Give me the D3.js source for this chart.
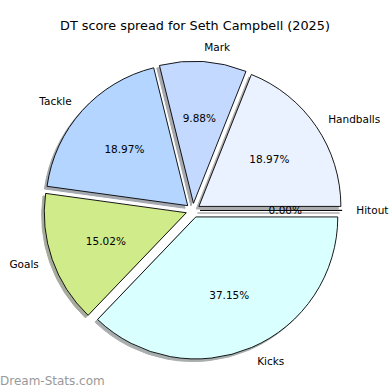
<!DOCTYPE html>
<html><head><meta charset="utf-8">
<script src="https://cdn.jsdelivr.net/npm/d3@7"></script>
<style>html,body{margin:0;padding:0;background:#fff;}svg{display:block;font-family:"DejaVu Sans",sans-serif;}</style>
</head><body>
<svg id="c" width="390" height="390"></svg>
<script>
const categories = ["Handballs","Mark","Tackle","Goals","Kicks","Hitout"];
const values = [18.97, 9.88, 18.97, 15.02, 37.15, 0.00];
const colors = ["#ebf2ff","#c3d9ff","#b3d5ff","#d0eb8a","#d9ffff","#ffffff"];
const titleText = "DT score spread for Seth Campbell (2025)";
const watermark = "Dream-Stats.com";

const svg = d3.select("#c");
const cx = 193, cy = 210.4, R = 142, explode = 0.05, shOff = 2.6;

const pie = d3.pie().sort(null).value(d => d.v)
  .startAngle(Math.PI/2).endAngle(Math.PI/2 - 2*Math.PI);
const data = categories.map((c,i)=>({c, v: values[i], col: colors[i]}));
const arcs = pie(data);
const arc = d3.arc().innerRadius(0).outerRadius(R);
const total = d3.sum(values);

function mid(a){ return (a.startAngle + a.endAngle)/2; }
function off(a, k){ const m = mid(a); return [k*Math.sin(m), -k*Math.cos(m)]; }

const g = svg.append("g").attr("transform", `translate(${cx},${cy})`);

// shadows
g.selectAll("path.sh").data(arcs).join("path").attr("class","sh")
  .attr("d", arc)
  .attr("transform", d => { const o = off(d, explode*R); return `translate(${o[0]-shOff},${o[1]+shOff})`; })
  .attr("fill", d => { const c = d3.rgb(d.data.col); return d3.rgb(c.r*0.3, c.g*0.3, c.b*0.3); })
  .attr("stroke", d => { const c = d3.rgb(d.data.col); return d3.rgb(c.r*0.3, c.g*0.3, c.b*0.3); })
  .attr("stroke-width", 1)
  .attr("opacity", 0.45);

// wedges
g.selectAll("path.w").data(arcs).join("path").attr("class","w")
  .attr("d", arc)
  .attr("transform", d => { const o = off(d, explode*R); return `translate(${o[0]},${o[1]})`; })
  .attr("fill", d => d.data.col)
  .attr("stroke", "#000")
  .attr("stroke-width", 0.9)
  .attr("stroke-linejoin", "miter");

// labels
g.selectAll("text.lab").data(arcs).join("text").attr("class","lab")
  .attr("x", d => off(d, explode*R)[0] + off(d, 1.1*R)[0])
  .attr("y", d => off(d, explode*R)[1] + off(d, 1.1*R)[1])
  .attr("text-anchor", d => off(d,1)[0] >= -1e-9 ? "start" : "end")
  .attr("dominant-baseline", "central")
  .attr("font-size", 10.5).attr("fill", "#000")
  .text(d => d.data.c);

// percents
g.selectAll("text.pct").data(arcs).join("text").attr("class","pct")
  .attr("x", d => off(d, explode*R)[0] + off(d, 0.6*R)[0])
  .attr("y", d => off(d, explode*R)[1] + off(d, 0.6*R)[1])
  .attr("text-anchor", "middle")
  .attr("dominant-baseline", "central")
  .attr("font-size", 10.5).attr("fill", "#000")
  .text(d => (100*d.data.v/total).toFixed(2) + "%");

svg.append("text").attr("x", 195).attr("y", 30).attr("text-anchor","middle")
  .attr("font-size", 12.8).attr("fill","#000").text(titleText);

svg.append("text").attr("x", 0).attr("y", 385)
  .attr("font-size", 12).attr("fill","#999").text(watermark);
</script>
</body></html>
